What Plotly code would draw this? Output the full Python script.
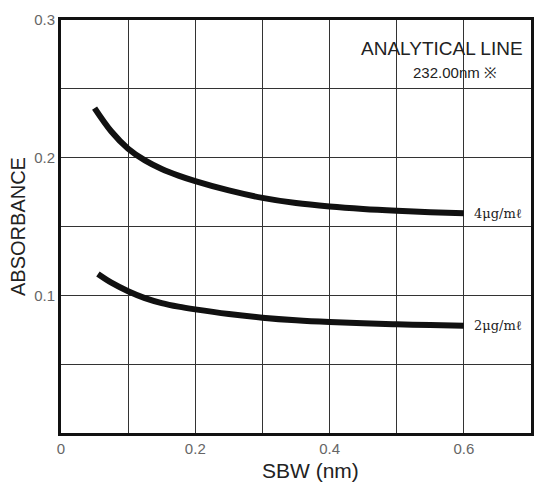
import plotly.graph_objects as go

# SBW (nm) values and absorbance for each concentration
sbw_4 = [0.05, 0.075, 0.1, 0.125, 0.15, 0.175, 0.2, 0.25, 0.3, 0.35, 0.4, 0.45, 0.5, 0.55, 0.6]
abs_4 = [0.2360, 0.2190, 0.2065, 0.1980, 0.1918, 0.1870, 0.1830, 0.1762, 0.1708, 0.1670, 0.1645, 0.1627, 0.1614, 0.1604, 0.1597]

sbw_2 = [0.055, 0.075, 0.1, 0.125, 0.15, 0.175, 0.2, 0.25, 0.3, 0.35, 0.4, 0.45, 0.5, 0.55, 0.6]
abs_2 = [0.1155, 0.1092, 0.1030, 0.0980, 0.0944, 0.0918, 0.0898, 0.0864, 0.0838, 0.0819, 0.0806, 0.0797, 0.0790, 0.0784, 0.0779]

series_labels = ["4\u03bcg/m\u2113", "2\u03bcg/m\u2113"]

x_tickvals = [0, 0.1, 0.2, 0.3, 0.4, 0.5, 0.6, 0.7]
x_ticktext = ["0", "", "0.2", "", "0.4", "", "0.6", ""]
y_tickvals = [0, 0.05, 0.1, 0.15, 0.2, 0.25, 0.3]
y_ticktext = ["", "", "0.1", "", "0.2", "", "0.3"]

fig = go.Figure()
for xs, ys in [(sbw_4, abs_4), (sbw_2, abs_2)]:
    fig.add_trace(go.Scatter(x=xs, y=ys, mode="lines",
                             line=dict(color="#111111", width=6, shape="spline", smoothing=1.0),
                             showlegend=False, hoverinfo="skip"))

# End labels
for xs, ys, lab in [(sbw_4, abs_4, series_labels[0]), (sbw_2, abs_2, series_labels[1])]:
    fig.add_annotation(x=xs[-1], y=ys[-1], text=lab, showarrow=False, xanchor="left",
                       xshift=8, yshift=0,
                       font=dict(family="DejaVu Serif", size=13, color="#222222"))

fig.add_annotation(xref="paper", yref="paper", x=0.988, y=0.93, text="ANALYTICAL LINE",
                   showarrow=False, xanchor="right", yanchor="middle",
                   font=dict(family="Liberation Sans", size=19, color="#222222"))
fig.add_annotation(xref="paper", yref="paper", x=0.932, y=0.872, text="232.00nm \u203b",
                   showarrow=False, xanchor="right", yanchor="middle",
                   font=dict(family="Liberation Sans", size=15, color="#222222"))

# x-axis title placed as annotation (centred slightly right of the plot centre as in the reference)
fig.add_annotation(xref="paper", yref="paper", x=0.531, y=0, yshift=-37, text="SBW (nm)",
                   showarrow=False, xanchor="center", yanchor="middle",
                   font=dict(family="Liberation Sans", size=21, color="#222222"))

fig.update_layout(
    width=537, height=483,
    margin=dict(l=61, r=3, t=20, b=50),
    paper_bgcolor="white", plot_bgcolor="white",
    font=dict(family="Liberation Sans", color="#222222"),
)
fig.update_xaxes(range=[0, 0.7], tickvals=x_tickvals, ticktext=x_ticktext,
                 showgrid=True, gridcolor="#333333", gridwidth=1,
                 showline=True, linecolor="#111111", linewidth=3, mirror=True,
                 zeroline=False, ticks="",
                 tickfont=dict(size=15, color="#666666"))
fig.update_yaxes(range=[0, 0.3], tickvals=y_tickvals, ticktext=y_ticktext,
                 showgrid=True, gridcolor="#333333", gridwidth=1,
                 showline=True, linecolor="#111111", linewidth=3, mirror=True,
                 zeroline=False, ticks="",
                 tickfont=dict(size=15, color="#666666"),
                 title=dict(text="ABSORBANCE", font=dict(size=20, color="#222222"), standoff=4))

fig.write_html("out.html")
